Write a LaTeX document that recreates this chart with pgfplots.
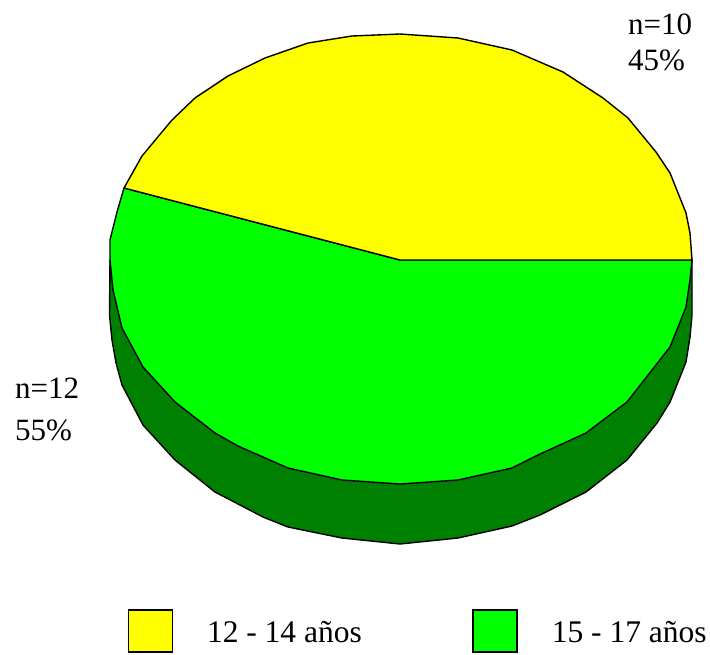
\documentclass[border=0pt]{standalone}
\usepackage{fontspec}
\setmainfont{Liberation Serif}
\usepackage{pgfplots}
\pgfplotsset{compat=1.18}
\definecolor{pieyellow}{RGB}{255,255,0}
\definecolor{piegreen}{RGB}{0,255,0}
\definecolor{pieside}{RGB}{0,128,0}
\pgfplotsset{
  slice/.style={draw=black,line width=1.4pt,line join=round,forget plot},
  swatch/.style={legend image code/.code={%
    \draw[fill=#1,draw=black,line width=1.5pt] (0pt,-19pt) rectangle (44pt,23pt);}},
}
\begin{document}
\begin{tikzpicture}
\begin{axis}[
  x=1pt,y=1pt,
  xmin=0,xmax=710,ymin=0,ymax=654,
  y dir=reverse,
  hide axis,
  clip=false,
  font=\fontsize{31}{36}\selectfont,
  legend columns=2,
  legend cell align=left,
  legend style={
    draw=none,fill=none,inner sep=0pt,outer sep=0pt,
    at={(axis cs:127.5,633)},anchor=base west,
    font=\fontsize{31.5}{36}\selectfont,
    /tikz/every odd column/.style={column sep=32pt},
    /tikz/every even column/.style={column sep=108.5pt},
  },
]
% frame of the page
\addplot[draw=none,forget plot] coordinates {(0,0) (710,654)};
% outer wall of the green slice
\addplot[slice,fill=pieside] coordinates {
  (110,260) (109.5,315) (112,340) (116,363) (122,385) (143,425) (175,460)
  (215,492) (263,517) (288,527) (342,538) (400,544) (458,538) (512,526)
  (540,515) (586,492) (627,460) (657,423) (670,402) (686,362) (690,337)
  (692,315) (692,260)
} -- cycle;
% green slice: n=12
\addplot[slice,fill=piegreen] coordinates {
  (400,260) (124,188) (117,212) (110,240) (110,260) (113,290) (122,328)
  (143,367) (175,402) (215,433) (238,446) (288,468) (342,480) (400,484)
  (458,480) (512,468) (540,454) (586,433) (627,402) (670,347) (686,307)
  (690,280) (692,260)
} -- cycle;
% yellow slice: n=10
\addplot[slice,fill=pieyellow] coordinates {
  (400,260) (692,260) (690,233) (686,213) (670,173) (656,152) (628,118)
  (603,98) (563,72) (512,50) (458,38) (400,34) (352,36) (308,43) (265,58)
  (228,76) (195,98) (172,120) (142,156) (124,188)
} -- cycle;
\addlegendimage{swatch=pieyellow}
\addlegendentry{12 - 14 años}
\addlegendimage{swatch=piegreen}
\addlegendentry{15 - 17 años}
\node[anchor=base west,inner sep=0pt] at (axis cs:628,34) {n=10};
\node[anchor=base west,inner sep=0pt] at (axis cs:628,70.5) {45\%};
\node[anchor=base west,inner sep=0pt] at (axis cs:15,398) {n=12};
\node[anchor=base west,inner sep=0pt] at (axis cs:15,440) {55\%};
\end{axis}
\end{tikzpicture}
\end{document}
